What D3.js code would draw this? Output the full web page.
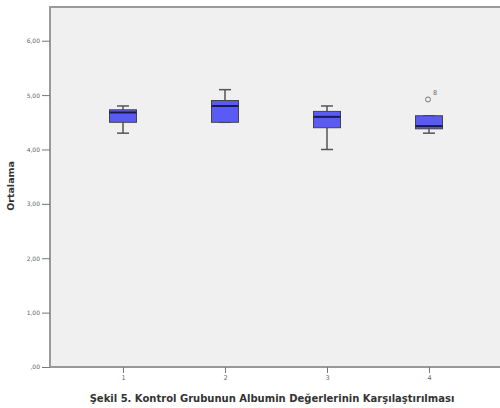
<!DOCTYPE html>
<html>
<head>
<meta charset="utf-8">
<script src="https://cdn.jsdelivr.net/npm/d3@7"></script>
<style>
  body { margin: 0; background: #fff; }
  text { font-family: "DejaVu Sans", sans-serif; }
</style>
</head>
<body>
<script>
// box plot values
const groups = ["1", "2", "3", "4"]
const mins = [4.3, 4.5, 4.0, 4.3]
const q1s = [4.5, 4.5, 4.4, 4.38]
const medians = [4.68, 4.8, 4.6, 4.43]
const q3s = [4.73, 4.9, 4.7, 4.62]
const maxs = [4.8, 5.1, 4.8, 4.62]
const outliers = [{ group: "4", value: 4.92, label: "8" }]
const yTicks = [0, 1, 2, 3, 4, 5, 6]

const width = 500, height = 408
const plotLeft = 50, plotRight = 500, plotTop = 7, plotBottom = 367

const svg = d3.select("body")
  .append("svg")
  .attr("width", width)
  .attr("height", height)

const y = d3.scaleLinear()
  .domain([0, 6.62])
  .range([plotBottom, plotTop])

const x = d3.scalePoint()
  .domain(groups)
  .range([123, 429])

// plot background
svg.append("rect")
  .attr("x", plotLeft)
  .attr("y", plotTop)
  .attr("width", plotRight - plotLeft)
  .attr("height", plotBottom - plotTop)
  .attr("fill", "#f0f0f0")

svg.append("path")
  .attr("d", `M${plotRight},${plotTop}H${plotLeft}V${plotBottom}H${plotRight}`)
  .attr("fill", "none")
  .attr("stroke", "#999")
  .attr("stroke-width", 2)

// y axis
const yAxis = d3.axisLeft(y)
  .tickValues(yTicks)
  .tickSize(8)
  .tickPadding(2)
  .tickFormat(t => t === 0 ? ",00" : t + ",00")

const gy = svg.append("g")
  .attr("transform", `translate(${plotLeft},0)`)
  .call(yAxis)
gy.select(".domain").remove()
gy.selectAll("line").attr("stroke", "#777")
gy.selectAll("text").attr("font-size", 6).attr("fill", "#666")

// x axis
const xAxis = d3.axisBottom(x)
  .tickSize(6)
  .tickPadding(2)

const gx = svg.append("g")
  .attr("transform", `translate(0,${plotBottom})`)
  .call(xAxis)
gx.select(".domain").remove()
gx.selectAll("line").attr("stroke", "#777")
gx.selectAll("text").attr("font-size", 6.5).attr("fill", "#666")

// boxes
const data = groups.map((g, i) => ({
  g: g, min: mins[i], q1: q1s[i], med: medians[i], q3: q3s[i], max: maxs[i]
}))

const boxW = 27, capW = 12

const box = svg.append("g").selectAll("g")
  .data(data)
  .enter()
  .append("g")

box.append("line")
  .attr("x1", d => x(d.g)).attr("x2", d => x(d.g))
  .attr("y1", d => y(d.max)).attr("y2", d => y(d.q3))
  .attr("stroke", "#555").attr("stroke-width", 1.5)
box.append("line")
  .attr("x1", d => x(d.g)).attr("x2", d => x(d.g))
  .attr("y1", d => y(d.q1)).attr("y2", d => y(d.min))
  .attr("stroke", "#555").attr("stroke-width", 1.5)
box.append("line")
  .attr("x1", d => x(d.g) - capW / 2).attr("x2", d => x(d.g) + capW / 2)
  .attr("y1", d => y(d.max)).attr("y2", d => y(d.max))
  .attr("stroke", "#555").attr("stroke-width", 1.5)
box.append("line")
  .attr("x1", d => x(d.g) - capW / 2).attr("x2", d => x(d.g) + capW / 2)
  .attr("y1", d => y(d.min)).attr("y2", d => y(d.min))
  .attr("stroke", "#555").attr("stroke-width", 1.5)

box.append("rect")
  .attr("x", d => x(d.g) - boxW / 2)
  .attr("y", d => y(d.q3))
  .attr("width", boxW)
  .attr("height", d => y(d.q1) - y(d.q3))
  .attr("fill", "#5a5af5")
  .attr("stroke", "#444")
  .attr("stroke-width", 1)

box.append("line")
  .attr("x1", d => x(d.g) - boxW / 2).attr("x2", d => x(d.g) + boxW / 2)
  .attr("y1", d => y(d.med)).attr("y2", d => y(d.med))
  .attr("stroke", "#1a1a50").attr("stroke-width", 2)

// outliers
svg.append("g").selectAll("circle")
  .data(outliers)
  .enter()
  .append("circle")
  .attr("cx", d => x(d.group) - 1)
  .attr("cy", d => y(d.value))
  .attr("r", 2.5)
  .attr("fill", "none")
  .attr("stroke", "#777")

svg.append("g").selectAll("text")
  .data(outliers)
  .enter()
  .append("text")
  .attr("x", d => x(d.group) + 4)
  .attr("y", d => y(d.value) - 4)
  .attr("font-size", 6.5)
  .attr("fill", "#666")
  .text(d => d.label)

// axis titles
svg.append("text")
  .attr("transform", "translate(14,186) rotate(-90)")
  .attr("text-anchor", "middle")
  .attr("font-size", 9.5)
  .attr("font-weight", "bold")
  .attr("fill", "#333")
  .text("Ortalama")

svg.append("text")
  .attr("x", 272)
  .attr("y", 402)
  .attr("text-anchor", "middle")
  .attr("font-size", 10)
  .attr("font-weight", "bold")
  .attr("fill", "#333")
  .text("Şekil 5. Kontrol Grubunun Albumin Değerlerinin Karşılaştırılması")
</script>
</body>
</html>
